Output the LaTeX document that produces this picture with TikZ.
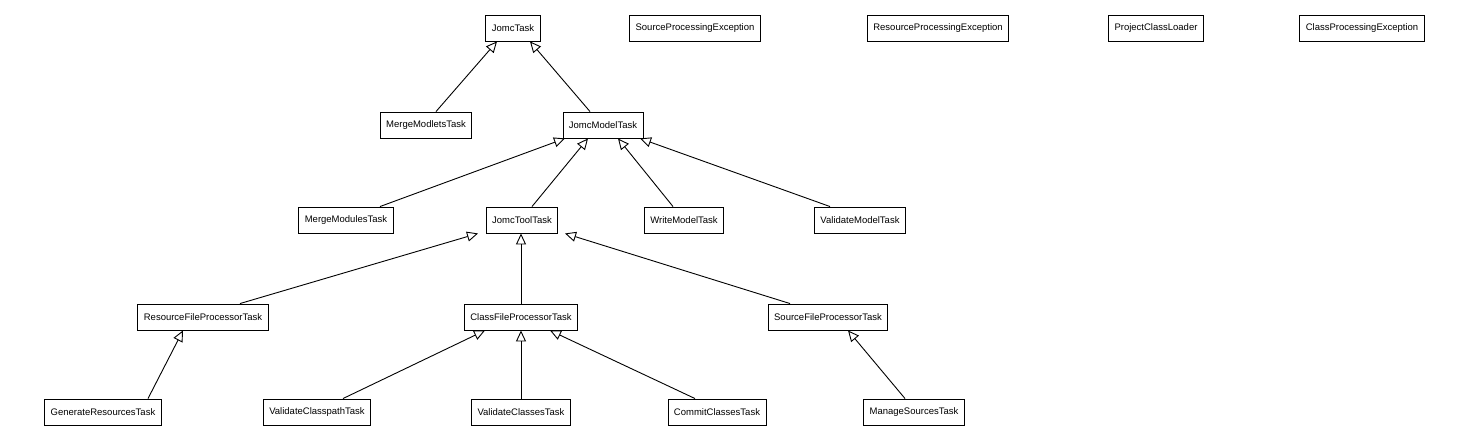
\documentclass[tikz,border=0pt]{standalone}
\usepackage{fontspec}
\setmainfont{Liberation Sans}
\usetikzlibrary{arrows.meta}
\begin{document}
\begin{tikzpicture}[x=1pt,y=-1pt,
  cls/.style={draw,line width=0.9pt,minimum height=26pt,inner xsep=6pt,font=\fontsize{9.5}{11}\selectfont,fill=white},
  inh/.style={draw,line width=0.9pt,-{Triangle[open,length=11pt,width=10pt]}}]
\useasboundingbox (0,0) rectangle (1471,443);
\node[cls] (jt) at (513,28) {JomcTask};
\node[cls] (spe) at (695,28) {SourceProcessingException};
\node[cls] (rpe) at (938,28) {ResourceProcessingException};
\node[cls] (pcl) at (1156,28) {ProjectClassLoader};
\node[cls] (cpe) at (1362,28) {ClassProcessingException};
\node[cls] (mlt) at (426,125) {MergeModletsTask};
\node[cls] (jmt) at (603,125) {JomcModelTask};
\node[cls] (mmt) at (346,220) {MergeModulesTask};
\node[cls] (jtt) at (522,220) {JomcToolTask};
\node[cls] (wmt) at (684,220) {WriteModelTask};
\node[cls] (vmt) at (860,220) {ValidateModelTask};
\node[cls] (rfp) at (203,317) {ResourceFileProcessorTask};
\node[cls] (cfp) at (521,317) {ClassFileProcessorTask};
\node[cls] (sfp) at (828,317) {SourceFileProcessorTask};
\node[cls] (grt) at (103,412) {GenerateResourcesTask};
\node[cls] (vcp) at (317,412) {ValidateClasspathTask};
\node[cls] (vct) at (521,412) {ValidateClassesTask};
\node[cls] (cct) at (717,412) {CommitClassesTask};
\node[cls] (mst) at (914,412) {ManageSourcesTask};
\draw[inh] ([xshift=10]mlt.north) -- ([xshift=-16]jt.south);
\draw[inh] ([xshift=-13]jmt.north) -- ([xshift=17]jt.south);
\draw[inh] ([xshift=34]mmt.north) -- ([xshift=-38]jmt.south);
\draw[inh] ([xshift=10]jtt.north) -- ([xshift=-15]jmt.south);
\draw[inh] ([xshift=-11]wmt.north) -- ([xshift=15]jmt.south);
\draw[inh] ([xshift=-30]vmt.north) -- ([xshift=37]jmt.south);
\draw[inh] ([xshift=37]rfp.north) -- ([xshift=-44]jtt.south);
\draw[inh] (cfp.north) -- ([xshift=-1]jtt.south);
\draw[inh] ([xshift=-38]sfp.north) -- ([xshift=43]jtt.south);
\draw[inh] ([xshift=45]grt.north) -- ([xshift=-20]rfp.south);
\draw[inh] ([xshift=26]vcp.north) -- ([xshift=-36]cfp.south);
\draw[inh] (vct.north) -- (cfp.south);
\draw[inh] ([xshift=-22]cct.north) -- ([xshift=29]cfp.south);
\draw[inh] ([xshift=-9]mst.north) -- ([xshift=20]sfp.south);
\end{tikzpicture}
\end{document}
